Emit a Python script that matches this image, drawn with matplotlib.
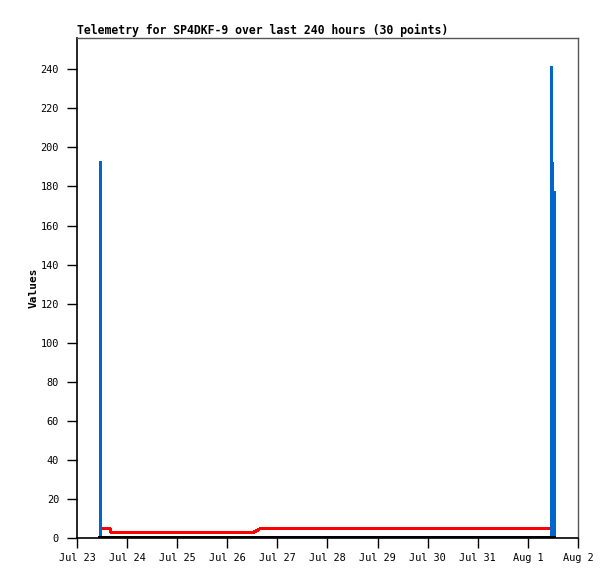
import datetime as dt
import matplotlib
matplotlib.use("Agg")
import matplotlib.pyplot as plt

# hours after Jul 23 00:00 for each of the 30 telemetry points
godziny = [11.2, 11.3, 15.6, 16.4, 26.0, 36.0, 46.0, 56.0, 66.0, 76.0,
           84.8, 86.4, 88.1, 100.0, 120.0, 140.0, 160.0, 180.0, 200.0, 227.2,
           227.3, 227.4, 227.7, 227.9, 228.1, 228.2, 228.3, 228.4, 228.6, 228.7]
kanal_niebieski = [192, 0, 0, 0, 0, 0, 0, 0, 0, 0,
                   0, 0, 0, 0, 0, 0, 0, 0, 0, 0,
                   241, 144, 192, 144, 177, 144, 177, 144, 177, 0]
kanal_czerwony = [5, 5, 5, 3, 3, 3, 3, 3, 3, 3,
                  3, 4, 5, 5, 5, 5, 5, 5, 5, 5,
                  5, 5, 5, 5, 5, 5, 5, 5, 5, 5]
kanal_czarny = [0] * 30

start = dt.datetime(2023, 7, 23)
czasy = [start + dt.timedelta(hours=h) for h in godziny]

dni = [start + dt.timedelta(days=d) for d in range(11)]
etykiety = ["Jul 23", "Jul 24", "Jul 25", "Jul 26", "Jul 27", "Jul 28",
            "Jul 29", "Jul 30", "Jul 31", "Aug 1", "Aug 2"]
yticki = list(range(0, 241, 20))

font = "DejaVu Sans Mono"

fig = plt.figure(figsize=(6.15, 5.79), dpi=100)
ax = fig.add_axes([77 / 615, 1 - 538 / 579, 501 / 615, 500 / 579])

# bez antyaliasingu, jak w oryginale (GD)
ax.plot(czasy, kanal_czerwony, color="#ff0000", lw=1.6, antialiased=False)
ax.plot(czasy, kanal_niebieski, color="#0066cc", lw=1.6, antialiased=False)
ax.plot(czasy, kanal_czarny, color="#000000", lw=2.6, antialiased=False)

ax.set_xlim(dni[0], dni[-1])
ax.set_ylim(0, 256)
ax.set_xticks(dni)
ax.set_xticklabels(etykiety, fontfamily=font, fontsize=7.4)
ax.set_yticks(yticki)
ax.set_yticklabels([str(v) for v in yticki], fontfamily=font, fontsize=7.4)
ax.tick_params(axis="both", direction="out", length=7, width=1, color="black", pad=6)
ax.tick_params(axis="x", pad=4)

for s in ["left", "bottom"]:
    ax.spines[s].set_color("black")
    ax.spines[s].set_linewidth(1.2)
for s in ["top", "right"]:
    ax.spines[s].set_color("#555555")
    ax.spines[s].set_linewidth(1.0)

ax.set_ylabel("Values", fontfamily=font, fontweight="bold", fontsize=8, labelpad=1)
ax.set_title("Telemetry for SP4DKF-9 over last 240 hours (30 points)",
             loc="left", fontfamily=font, fontweight="bold", fontsize=8.3, pad=3)

fig.savefig("out.png", dpi=100)
